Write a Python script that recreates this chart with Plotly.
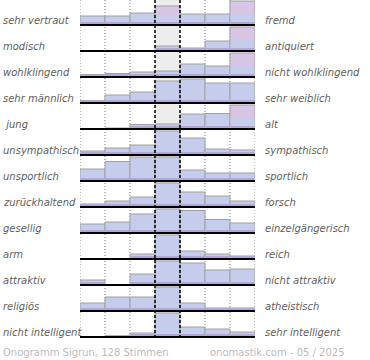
import plotly.graph_objects as go

left_labels = ["sehr vertraut", "modisch", "wohlklingend", "sehr männlich", " jung",
               "unsympathisch", "unsportlich", "zurückhaltend", "gesellig", "arm",
               "attraktiv", "religiös", "nicht intelligent"]
right_labels = ["fremd", "antiquiert", "nicht wohlklingend", "sehr weiblich", "alt",
                "sympathisch", "sportlich", "forsch", "einzelgängerisch", "reich",
                "nicht attraktiv", "atheistisch", "sehr intelligent"]
# relative vote shares per scale step (7 steps)
votes = [
    [9, 9, 12, 19, 11, 11, 24],
    [0, 0, 0, 5, 3, 10, 24],
    [2.5, 3.5, 5, 6, 13, 11, 24],
    [2.5, 8, 11, 22, 24, 20, 20],
    [0, 1, 4.5, 5, 15, 15.5, 24],
    [4, 7, 10, 24, 17, 6, 5],
    [12, 19.5, 24, 24, 11, 8, 8],
    [3, 6, 10, 24, 15, 11, 6],
    [9, 11, 19, 24, 22.5, 13.5, 10],
    [0, 0, 5, 24, 8, 5, 3],
    [5, 0, 11, 24, 22, 15, 16],
    [8, 14, 14, 24, 8, 3, 3],
    [0, 1.5, 4, 24, 10, 8, 5],
]
footer_left = "Onogramm Sigrun, 128 Stimmen"
footer_right = "onomastik.com - 05 / 2025"

# style
pink_bars = {(0, 3), (0, 6), (1, 6), (2, 6), (4, 6)}
BLUE = "#c6cceb"
PINK = "#d9c6e6"
BAND = "#b2a8d7"
ROW_PX = 26
FULL = 24 / ROW_PX
BAND_H = 3 / ROW_PX
n = len(votes)

fig = go.Figure()
xs = [c + 0.5 for c in range(7)]
for i, row in enumerate(votes):
    m = max(row)
    h = [v / m * FULL for v in row]
    cols = [PINK if (i, c) in pink_bars else BLUE for c in range(7)]
    fig.add_bar(x=xs, y=[-v for v in h], base=[i] * 7, width=1,
                marker=dict(color=cols, line=dict(color="#a0a0a0", width=1)),
                hoverinfo="skip", showlegend=False)
    # lower blue part of pink bars
    px_ = [xs[c] for c in range(7) if (i, c) in pink_bars]
    ph = [-h[c] * 0.45 for c in range(7) if (i, c) in pink_bars]
    if px_:
        fig.add_bar(x=px_, y=ph, base=[i] * len(px_), width=0.95,
                    marker=dict(color=BLUE, line=dict(width=0)),
                    hoverinfo="skip", showlegend=False)
    band = [-min(v, BAND_H) for v in h]
    fig.add_bar(x=xs, y=band, base=[i] * 7, width=0.95,
                marker=dict(color=BAND, line=dict(width=0)),
                hoverinfo="skip", showlegend=False)

y_top = -25 / ROW_PX
y_bot = 338 / ROW_PX + y_top

shapes = []
shapes.append(dict(type="rect", xref="x", yref="y", x0=3, x1=4, y0=y_top, y1=n - 1,
                   fillcolor="#ededed", line=dict(width=0), layer="below"))
for xv in [0, 1, 2, 5, 6, 7]:
    shapes.append(dict(type="line", xref="x", yref="y", x0=xv, x1=xv, y0=y_top, y1=n - 1,
                       line=dict(color="#7a7a7a", width=1, dash="1px,2px"), layer="below"))
for i in range(n):
    shapes.append(dict(type="line", xref="x", yref="y", x0=0, x1=7, y0=i, y1=i,
                       line=dict(color="#000000", width=2), layer="above"))
for xv in [3, 4]:
    shapes.append(dict(type="line", xref="x", yref="y", x0=xv, x1=xv, y0=y_top, y1=n - 1 + 0.04,
                       line=dict(color="#000000", width=1.5, dash="3px,2px"), layer="above"))

L, R = 80, 115
PW = 370 - L - R
def xp(px):
    return (px - L) / PW

ann = []
lab_font = dict(family="DejaVu Sans", size=10, color="#5e5e5e", style="italic")
for i in range(n):
    ann.append(dict(text=left_labels[i], xref="paper", yref="y", x=xp(1), y=i - 5 / ROW_PX,
                    xanchor="left", yanchor="middle", showarrow=False, font=lab_font))
    ann.append(dict(text=right_labels[i], xref="paper", yref="y", x=xp(263), y=i - 5 / ROW_PX,
                    xanchor="left", yanchor="middle", showarrow=False, font=lab_font))
foot_font = dict(family="DejaVu Sans", size=10, color="#bbbbbb")
ann.append(dict(text=footer_left, xref="paper", yref="paper", x=xp(1), y=-14 / 338,
                xanchor="left", yanchor="middle", showarrow=False, font=foot_font))
ann.append(dict(text=footer_right, xref="paper", yref="paper", x=xp(347), y=-14 / 338,
                xanchor="right", yanchor="middle", showarrow=False, font=foot_font))

fig.update_layout(
    width=370, height=360,
    margin=dict(l=L, r=R, t=0, b=22, pad=0),
    barmode="overlay",
    plot_bgcolor="white", paper_bgcolor="white",
    xaxis=dict(range=[0, 7], visible=False, fixedrange=True),
    yaxis=dict(range=[y_bot, y_top], visible=False, fixedrange=True),
    shapes=shapes, annotations=ann,
    showlegend=False,
)
fig.write_html("out.html", config={"displayModeBar": False},
               post_script="document.body.style.margin='0';document.body.style.overflow='hidden';")
